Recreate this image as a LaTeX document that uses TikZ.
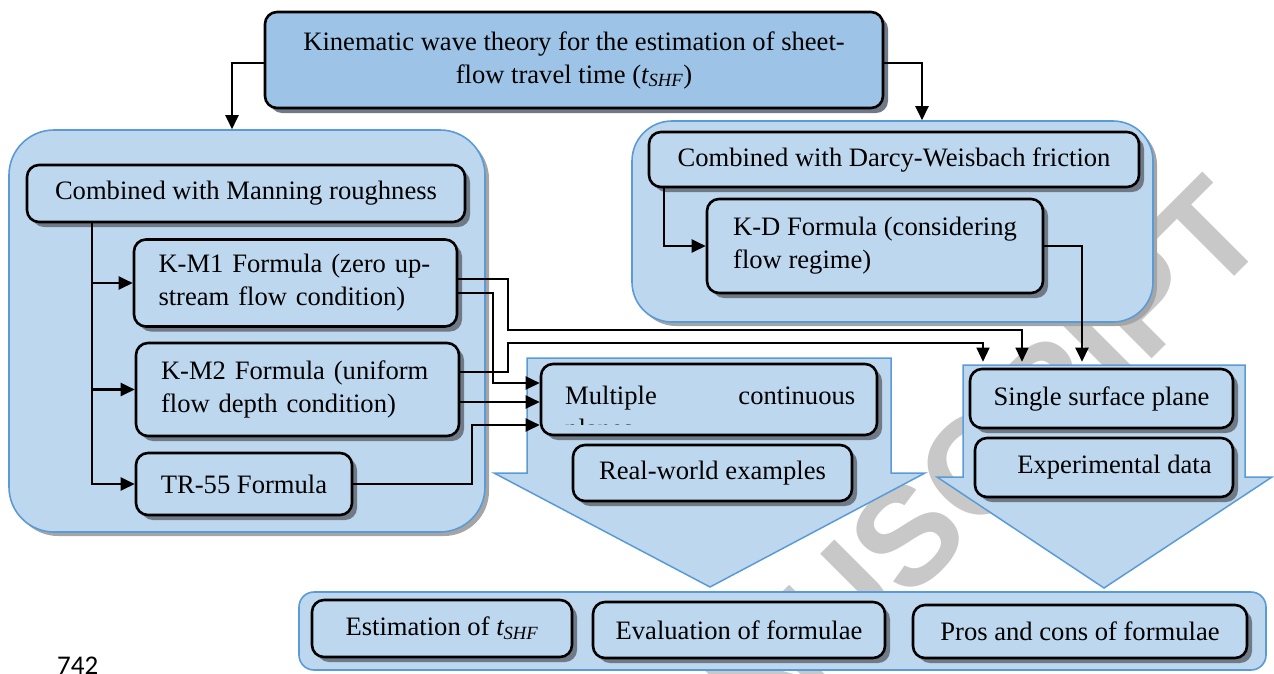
\documentclass[tikz,border=0pt]{standalone}
\usepackage{fontspec}
\setmainfont{Liberation Serif}
\newfontfamily\wmfont{Liberation Sans}
\newfontfamily\numfont{Carlito}
\usetikzlibrary{shadows,arrows.meta,calc}
\definecolor{lb}{HTML}{BDD7EE}
\definecolor{db}{HTML}{9DC3E6}
\definecolor{bb}{HTML}{5B9BD5}
\definecolor{shc}{RGB}{112,122,135}
\definecolor{cshc}{RGB}{165,165,165}
\definecolor{wm}{RGB}{200,200,200}
\newcommand{\tshf}{\textit{t}\textsubscript{\kern-0.5pt\textit{SHF}}}
\begin{document}
\begin{tikzpicture}[x=1pt,y=-1pt,
  txt/.style={font=\fontsize{26.6}{33}\selectfont},
  ibox/.style={txt, draw=black, line width=2.6pt, rounded corners=12pt, fill=lb, inner sep=0pt,
    drop shadow={shadow xshift=5pt,shadow yshift=-5pt,fill=shc,opacity=1}},
  cbox/.style={draw=bb, line width=1.6pt, fill=lb, inner sep=0pt,
    drop shadow={shadow xshift=4pt,shadow yshift=-4pt,fill=cshc,opacity=1}},
  barrow/.style={draw=bb, line width=1.5pt, fill=lb, line join=miter},
  thk/.style={line width=2.3pt, -{Triangle[length=14pt,width=13pt]}},
  thn/.style={line width=1.2pt, -{Triangle[length=14pt,width=13pt]}},
]
\useasboundingbox (0,0) rectangle (1274,673);
\clip (0,0) rectangle (1274,673);

% watermark
\node[rotate=45, text=wm, font=\wmfont\bfseries\fontsize{140}{140}\selectfont, inner sep=0pt] (wmk) at (908,535) {MANUSCRIPT};

% containers
\node[cbox, rounded corners=45pt, minimum width=476pt, minimum height=402pt] (lc) at (247,331) {};
\node[cbox, rounded corners=40pt, minimum width=521pt, minimum height=201pt] (rc) at (892.5,221.5) {};

% big down arrows
\draw[barrow] (527,358) -- (891,358) -- (891,473) -- (925,473) -- (710,587) -- (494,473) -- (527,473) -- cycle;
\draw[barrow] (963,365) -- (1245,365) -- (1245,477) -- (1272,477) -- (1104,588) -- (937,477) -- (963,477) -- cycle;

% bottom container
\node[draw=bb, line width=1.6pt, fill=lb, rounded corners=15pt, minimum width=967pt, minimum height=78pt, inner sep=0pt] (bc) at (782.5,631) {};

% top box
\node[ibox, fill=db, minimum width=618pt, minimum height=96pt, align=center] (top) at (574,60)
  {Kinematic wave theory for the estimation of sheet-\\flow travel time (\tshf)};

% left group
\node[ibox, minimum width=438pt, minimum height=57pt] (man) at (246,193.5) {Combined with Manning roughness};
\node[ibox, minimum width=323pt, minimum height=87pt, text width=274pt, align=left] (km1) at (295.5,283)
  {\makebox[274pt][s]{K-M1 Formula (zero up-}\\stream flow condition)};
\node[ibox, minimum width=323pt, minimum height=93pt, text width=273pt, align=left] (km2) at (297.5,389.5)
  {\makebox[273pt][s]{K-M2 Formula (uniform}\\flow depth condition)};
\node[ibox, minimum width=216pt, minimum height=62pt, align=left] (tr) at (244,484) {TR-55 Formula};

% right group
\node[ibox, minimum width=490pt, minimum height=55pt] (dw) at (894,159.5) {Combined with Darcy-Weisbach friction};
\node[ibox, minimum width=336pt, minimum height=94pt, align=left] (kd) at (875,246)
  {K-D Formula (considering\\flow regime)};

% middle arrow boxes
\node[ibox, minimum width=336pt, minimum height=71pt] (mult) at (709,399.5) {};
\node[txt, anchor=base west, inner sep=0pt] (multt) at (565,404) {\makebox[290pt][s]{Multiple continuous}};
\begin{scope}
  \clip (541,364) rectangle (877,424);
  \node[txt, anchor=base west, inner sep=0pt] (multp) at (565,437) {planes};
\end{scope}
\node[ibox, minimum width=279pt, minimum height=56pt] (rw) at (712.5,473) {Real-world examples};

% right arrow boxes
\node[ibox, minimum width=263pt, minimum height=59pt] (ss) at (1101.5,398.5) {Single surface plane};
\node[ibox, minimum width=258pt, minimum height=59pt] (ed) at (1104,467.5) {\hspace*{21pt}Experimental data};

% bottom boxes
\node[ibox, minimum width=260pt, minimum height=57pt] (est) at (442,628.5) {Estimation of \tshf};
\node[ibox, minimum width=292pt, minimum height=56pt] (ev) at (739,630) {Evaluation of formulae};
\node[ibox, minimum width=334pt, minimum height=53pt] (pc) at (1080,631.5) {Pros and cons of formulae};

% line number
\node[anchor=base west, inner sep=0pt, font=\numfont\fontsize{27}{27}\selectfont] (ln) at (57,674) {742};

% connectors
\coordinate (sstop) at ([yshift=6pt]ss.north);
\draw[thk] (top.west |- 0,63) -| (lc.north -| 232,0);
\draw[thk] (top.east |- 0,63) -| (rc.north -| 922,0);

\draw[thk] (man.south -| 92,0) |- (tr.west);
\draw[thk] (km1.west -| 92,0) -- (km1.west);
\draw[thk] (km2.west -| 92,0) -- (km2.west);

\draw[thk] (dw.south -| 664,0) |- (kd.west);
\draw[thk] (kd.east) -| (sstop -| 1082,0);

\draw[thk] (km1.east |- 0,293) -| (493,383) -- (mult.west |- 0,383);
\draw[thk] (km2.east |- 0,402) -- (mult.west |- 0,402);
\draw[thk] (tr.east) -| (472,425) -- (mult.west |- 0,425);

\draw[thn] (km1.east |- 0,279) -| (508,330) -| (sstop -| 1022,0);
\draw[thn] (km2.east |- 0,372) -| (508,343) -| (sstop -| 983,0);
\end{tikzpicture}
\end{document}
